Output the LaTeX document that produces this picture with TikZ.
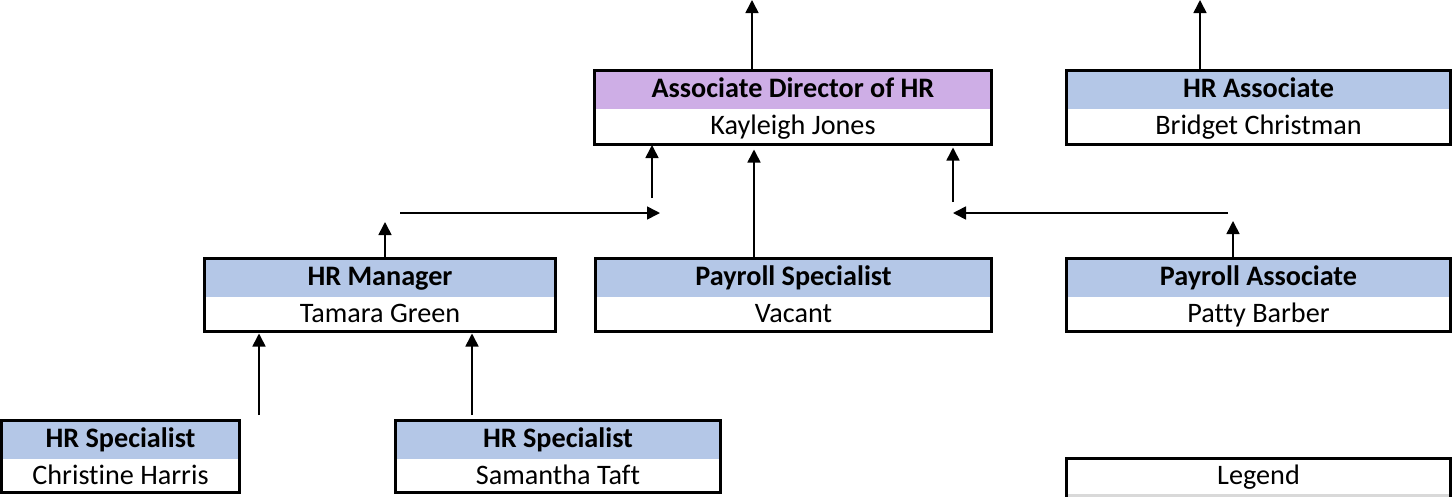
\documentclass[tikz,border=0pt]{standalone}
\usepackage{fontspec}
\setmainfont{Carlito}[Ligatures={NoCommon}]
\usetikzlibrary{arrows.meta}
\definecolor{hdrblue}{RGB}{180,199,231}
\definecolor{hdrpurple}{RGB}{206,174,230}
\definecolor{leggray}{RGB}{217,217,217}
\tikzset{
  card/.style={draw, line width=3pt, inner sep=0pt, outer sep=0pt, anchor=north west},
  conn/.style={line width=1.6pt, -{Triangle[length=13pt,width=13pt]}},
  ttl/.style={anchor=base, font=\fontsize{28.2}{30}\selectfont\bfseries, inner sep=0pt},
  who/.style={anchor=base, font=\fontsize{28.2}{30}\selectfont, inner sep=0pt},
}
% #1 name, #2 x1, #3 y1, #4 x2, #5 y2, #6 header colour, #7 title, #8 person
\newcommand{\OrgCard}[8]{%
  \node[card, minimum width={(#4-#2-3)*1pt}, minimum height={(#5-#3-3)*1pt},
    path picture={\fill[#6] (path picture bounding box.north west) rectangle
      ([yshift=-38.5pt]path picture bounding box.north east);}]
    (#1) at (#2+1.5,#3+1.5) {};
  \node[ttl] (#1-t) at ({(#2+#4)/2},#3+28) {#7};
  \node[who] (#1-n) at ({(#2+#4)/2},#3+65) {#8};
}
\begin{document}
\begin{tikzpicture}[x=1pt,y=-1pt]
\useasboundingbox (0,0) rectangle (1452,496);
\clip (0,0) rectangle (1452,496);

\OrgCard{ad}{593}{69}{993}{146}{hdrpurple}{Associate Director of HR}{Kayleigh Jones}
\OrgCard{hra}{1065}{69}{1452}{146}{hdrblue}{HR Associate}{Bridget Christman}
\OrgCard{hm}{203}{257}{557}{333}{hdrblue}{HR Manager}{Tamara Green}
\OrgCard{ps}{594}{257}{993}{333}{hdrblue}{Payroll Specialist}{Vacant}
\OrgCard{pa}{1065}{257}{1452}{333}{hdrblue}{Payroll Associate}{Patty Barber}
\OrgCard{ch}{0}{419}{241}{494}{hdrblue}{HR Specialist}{Christine Harris}
\OrgCard{st}{394}{419}{722}{494}{hdrblue}{HR Specialist}{Samantha Taft}

% legend
\node[card, minimum width=384pt, minimum height=100pt,
  path picture={\fill[leggray] ([yshift=-35.5pt]path picture bounding box.north west)
    rectangle (path picture bounding box.south east);}]
  (leg) at (1066.5,458.5) {};
\node[who] (leg-t) at (1258.5,484) {Legend};

% free ends
\coordinate (adtop) at (752,0);
\coordinate (hratop) at (1200,0);
\coordinate (hmup) at (385,222);
\coordinate (lhs) at (400,213);
\coordinate (lhe) at (660,213);
\coordinate (lvs) at (652,198);
\coordinate (rup) at (1233,221);
\coordinate (rhs) at (1228,213);
\coordinate (rhe) at (953,213);
\coordinate (rv2) at (953,202);
\coordinate (chs) at (259,415);
\coordinate (sts) at (472,415);

\draw[conn] (ad.north -| adtop) -- (adtop);
\draw[conn] (hra.north -| hratop) -- (hratop);
\draw[conn] (hm.north -| hmup) -- (hmup);
\draw[conn] (lhs) -- (lhe);
\draw[conn] (lvs) -- ([yshift=-0.5pt]ad.south -| lvs);
\draw[conn] (ps.north -| 754,0) -- ([yshift=-5pt]ad.south -| 754,0);
\draw[conn] (pa.north -| rup) -- (rup);
\draw[conn] (rhs) -- (rhe);
\draw[conn] (rv2) -- ([yshift=-3pt]ad.south -| rv2);
\draw[conn] (chs) -- ([yshift=-2pt]hm.south -| chs);
\draw[conn] (sts) -- ([yshift=-2pt]hm.south -| sts);
\end{tikzpicture}
\end{document}
